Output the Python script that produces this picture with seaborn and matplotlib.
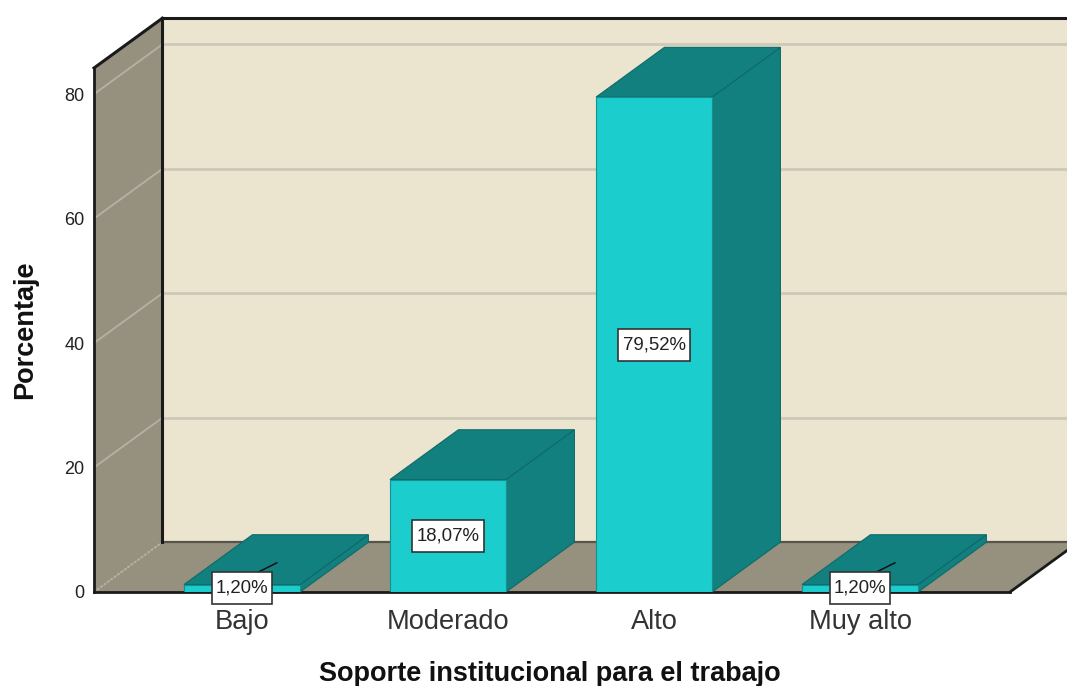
import matplotlib
matplotlib.use("Agg")
import matplotlib.pyplot as plt
import pandas as pd
import seaborn as sns
from matplotlib.patches import Polygon
from matplotlib.path import Path

# Survey results
categories = ["Bajo", "Moderado", "Alto", "Muy alto"]
percentages = [1.20, 18.07, 79.52, 1.20]
value_labels = ["1,20%", "18,07%", "79,52%", "1,20%"]
y_ticks = [0, 20, 40, 60, 80]

# Palette of the pseudo-3D box
WALL = "#EBE5CF"
SIDE = "#96917F"
BAR_FRONT = "#1CCDCE"
BAR_DARK = "#138080"
GRID_BACK = "#CDC9B9"
GRID_SIDE = "#B4B1A8"
INK = "#1A1A1A"

# Extrusion of the box, in data units (category steps, percentage points)
DEPTH_X = 0.332
DEPTH_Y = 8.0
XLIM = (-0.7184, 3.728)
YLIM = (0, 84.2)
BAR_WIDTH = 0.563

sns.set_theme(style="white")
plt.rcParams["font.family"] = ["Liberation Sans", "DejaVu Sans"]

fig = plt.figure(figsize=(10.67, 6.86), dpi=100)
ax = fig.add_axes([94 / 1067, 94 / 686, 916 / 1067, 524 / 686])
ax.patch.set_visible(False)

df = pd.DataFrame({"categoria": categories, "porcentaje": percentages})
sns.barplot(
    data=df, x="categoria", y="porcentaje", order=categories,
    color=BAR_FRONT, saturation=1, width=BAR_WIDTH, ax=ax,
    edgecolor="#158F90", linewidth=0.8, zorder=6,
)
ax.set_xlim(XLIM)
ax.set_ylim(YLIM)


def face(points, color, edge=None, lw=0.0, z=1):
    ax.add_patch(Polygon(points, closed=True, facecolor=color,
                         edgecolor=edge or color, linewidth=lw,
                         clip_on=False, zorder=z))


def stroke(xs, ys, color=INK, lw=2.0, z=4, **kw):
    ax.plot(xs, ys, color=color, lw=lw, zorder=z, clip_on=False,
            solid_capstyle="projecting", **kw)


def label_box(x, y, width, height, mutation_size):
    # Rectangle with more vertical than horizontal padding around the text
    pad_x = 0.22 * mutation_size
    pad_y = 0.40 * mutation_size
    left, right = x - pad_x, x + width + pad_x
    bottom, top = y - pad_y, y + height + pad_y
    return Path([(left, bottom), (right, bottom), (right, top), (left, top),
                 (left, bottom)], closed=True)


x0, x1 = XLIM
y0, y1 = YLIM
bx, by = x0 + DEPTH_X, y0 + DEPTH_Y
far = x1 + DEPTH_X + 0.1

# Back wall, left wall and floor
face([(bx, by), (far, by), (far, y1 + DEPTH_Y), (bx, y1 + DEPTH_Y)], WALL, z=1)
face([(x0, y0), (bx, by), (bx, y1 + DEPTH_Y), (x0, y1)], SIDE, z=1)
face([(x0, y0), (x1, y0), (x1 + DEPTH_X, by), (bx, by)], SIDE, z=1)

# Gridlines run across the back wall and fold onto the left wall
for t in y_ticks[1:]:
    stroke([bx, far], [t + DEPTH_Y, t + DEPTH_Y], color=GRID_BACK, lw=2.0, z=2)
    stroke([x0, bx], [t, t + DEPTH_Y], color=GRID_SIDE, lw=1.3, z=2)
stroke([x0, bx], [y0, by], color="#B4B1A8", lw=1.5, z=2, linestyle=(0, (1, 1)))

# Box outline
stroke([bx, far], [by, by], color="#55534A", lw=1.6, z=3)
stroke([bx, bx], [by, y1 + DEPTH_Y], lw=2.2, z=4)
stroke([bx, far], [y1 + DEPTH_Y, y1 + DEPTH_Y], lw=2.2, z=4)
stroke([x0, bx], [y1, y1 + DEPTH_Y], lw=2.2, z=4)
stroke([x1, x1 + DEPTH_X], [y0, by], lw=2.0, z=4)

# Extrude each bar: right side and top, derived from its front face
for bar, value, label in zip(ax.patches, percentages, value_labels):
    left = bar.get_x()
    right = left + bar.get_width()
    top = bar.get_height()
    centre = left + bar.get_width() / 2
    face([(right, 0), (right + DEPTH_X, DEPTH_Y),
          (right + DEPTH_X, top + DEPTH_Y), (right, top)],
         BAR_DARK, edge="#0E6A6A", lw=0.8, z=5)
    face([(left, top), (right, top), (right + DEPTH_X, top + DEPTH_Y),
          (left + DEPTH_X, top + DEPTH_Y)],
         BAR_DARK, edge="#0E6A6A", lw=0.8, z=5)
    # Short leader for labels too low to sit on the front face
    if value < 5:
        ax.plot([centre, centre + 0.17], [value + 0.7, value + 3.5],
                color="#111111", lw=1.1, zorder=7, clip_on=False)
    ax.text(centre, top / 2, label, ha="center", va="center",
            fontsize=13.4, color="#222222", zorder=9, clip_on=False,
            bbox=dict(boxstyle=label_box, facecolor="white",
                      edgecolor="#333333", linewidth=1.2))

# Axes furniture
for name in ("top", "right"):
    ax.spines[name].set_visible(False)
for name in ("left", "bottom"):
    ax.spines[name].set_color(INK)
    ax.spines[name].set_linewidth(2.0)
    ax.spines[name].set_zorder(4)

ax.set_yticks(y_ticks)
ax.tick_params(axis="y", length=0, pad=7, labelsize=13, labelcolor="#222222")
ax.tick_params(axis="x", length=0, pad=12, labelsize=19.6, labelcolor="#333333")

ax.set_xlabel("Soporte institucional para el trabajo", fontsize=19.5,
              fontweight="bold", color="#111111")
ax.set_ylabel("Porcentaje", fontsize=19.5, fontweight="bold", color="#111111")
ax.xaxis.set_label_coords(0.4975, -0.131)
ax.yaxis.set_label_coords(-0.0611, 0.5)

fig.savefig("out.png", dpi=100, facecolor="white")
